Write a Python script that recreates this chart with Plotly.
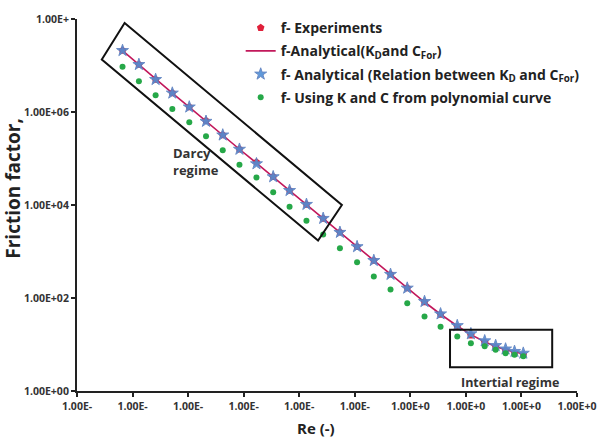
import plotly.graph_objects as go

# ---- data ----
re_vals = [6.6e-6, 1.3e-5, 2.6e-5, 5.2e-5, 1.05e-4, 2.1e-4, 4.2e-4, 8.4e-4, 1.7e-3,
           3.4e-3, 6.7e-3, 1.35e-2, 2.7e-2, 5.4e-2, 0.11, 0.22, 0.44, 0.88, 1.8,
           3.5, 7.0, 12.3, 21.8, 34.3, 51.8, 75, 108]
f_experiments = [2.1e7, 1.05e7, 5.0e6, 2.55e6, 1.28e6, 6.5e5, 3.2e5, 1.58e5, 8.3e4,
                 4.05e4, 2.05e4, 1.03e4, 5150, 2580, 1270, 640, 322, 165, 82,
                 44, 24, 15.8, 11.2, 8.9, 7.4, 6.6, 6.0]
f_analytical = [2.1e7, 1.05e7, 5.0e6, 2.55e6, 1.28e6, 6.3e5, 3.2e5, 1.58e5, 8.0e4,
                4.05e4, 2.05e4, 1.03e4, 5150, 2580, 1270, 640, 322, 163, 82,
                44.7, 25, 16.3, 11.5, 9.1, 7.7, 6.9, 6.3]
f_relation = [2.1e7, 1.05e7, 5.0e6, 2.55e6, 1.28e6, 6.3e5, 3.2e5, 1.58e5, 7.7e4,
              4.05e4, 2.05e4, 1.03e4, 5150, 2580, 1270, 640, 322, 163, 84,
              45.5, 25.5, 17.0, 12.0, 9.5, 8.0, 7.1, 6.5]
f_polynomial = [9.4e6, 4.6e6, 2.3e6, 1.16e6, 6.0e5, 3.0e5, 1.5e5, 7.3e4, 3.9e4,
                1.87e4, 9.2e3, 4.6e3, 2330, 1170, 590, 290, 153, 77, 40,
                24, 14.8, 10.7, 9.2, 7.7, 6.5, 6.0, 5.6]

x_tickvals = [1e-6, 1e-5, 1e-4, 1e-3, 1e-2, 1e-1, 1e0, 1e1, 1e2, 1e3]
x_ticktext = ["1.00E-", "1.00E-", "1.00E-", "1.00E-", "1.00E-", "1.00E-",
              "1.00E+0", "1.00E+0", "1.00E+0", "1.00E+0"]
y_tickvals = [1e0, 1e2, 1e4, 1e6, 1e8]
y_ticktext = ["1.00E+00", "1.00E+02", "1.00E+04", "1.00E+06", "1.00E+"]

FONT = "Open Sans"
fig = go.Figure()

fig.add_trace(go.Scatter(
    x=re_vals, y=f_analytical, mode="lines", name="f-Analytical(K<sub>D</sub>and C<sub>For</sub>)",
    line=dict(color="#c2185b", width=1.6), legendrank=2, legendgroup="b"))
fig.add_trace(go.Scatter(
    x=re_vals, y=f_experiments, mode="markers", name="f- Experiments",
    marker=dict(symbol="pentagon", size=8, color="#e0203a"), legendrank=1, legendgroup="a"))
fig.add_trace(go.Scatter(
    x=re_vals, y=f_relation, mode="markers", name="f- Analytical (Relation between K<sub>D</sub> and C<sub>For</sub>)",
    marker=dict(symbol="star", size=9, color="#4f8fd6", opacity=0.9,
                line=dict(color="#5b7fc0", width=1)), legendrank=3, legendgroup="c"))
fig.add_trace(go.Scatter(
    x=re_vals, y=f_polynomial, mode="markers", name="f- Using K and C from polynomial curve",
    marker=dict(symbol="circle", size=6, color="#26a848"), legendrank=4, legendgroup="d"))

axfont = dict(family=FONT, size=10.5, color="#333", weight="bold")
fig.update_xaxes(type="log", range=[-6, 3], tickvals=x_tickvals, ticktext=x_ticktext,
                 showline=True, linecolor="#222", linewidth=2, ticks="outside", ticklen=4,
                 tickcolor="#222", tickwidth=1.5, showgrid=False, zeroline=False, tickfont=axfont)
fig.update_yaxes(type="log", range=[0, 8], tickvals=y_tickvals, ticktext=y_ticktext,
                 showline=True, linecolor="#222", linewidth=2, ticks="outside", ticklen=4,
                 tickcolor="#222", tickwidth=1.5, showgrid=False, zeroline=False, tickfont=axfont)

W, H = 608, 439
L, R, T, B = 77, 27, 15, 48
pw, ph = W - L - R, H - T - B


def px(x):
    return (x - L) / pw


def py(y):
    return (H - B - y) / ph


shapes = [
    dict(type="path", xref="paper", yref="paper",
         path=f"M {px(125)} {py(19)} L {px(344)} {py(203)} L {px(320)} {py(239)} L {px(102)} {py(56)} Z",
         line=dict(color="#111", width=2)),
    dict(type="rect", xref="paper", yref="paper",
         x0=px(453), x1=px(556), y0=py(367), y1=py(329),
         line=dict(color="#111", width=2)),
]

annotations = [
    dict(text="Friction factor,", xref="paper", yref="paper", x=px(13), y=py(186),
         xanchor="center", yanchor="middle",
         textangle=-90, showarrow=False, font=dict(family=FONT, size=19, color="#222", weight="bold")),
    dict(text="Re (-)", xref="paper", yref="paper", x=px(318), y=py(428),
         xanchor="center", yanchor="middle",
         showarrow=False, font=dict(family=FONT, size=15, color="#222", weight="bold")),
    dict(text="Darcy<br>regime", xref="paper", yref="paper", x=px(172), y=py(159),
         xanchor="left", yanchor="middle", align="left", showarrow=False,
         font=dict(family=FONT, size=13, color="#333", weight="bold")),
    dict(text="Intertial regime", xref="paper", yref="paper", x=px(513), y=py(382),
         xanchor="center", yanchor="middle",
         showarrow=False, font=dict(family=FONT, size=12.5, color="#333", weight="bold")),
]

fig.update_layout(
    width=W, height=H, margin=dict(l=L, r=R, t=T, b=B),
    paper_bgcolor="white", plot_bgcolor="white",
    shapes=shapes, annotations=annotations,
    legend=dict(x=px(242), y=py(8), xanchor="left", yanchor="top",
                bgcolor="rgba(0,0,0,0)", tracegroupgap=2,
                font=dict(family=FONT, size=14, color="#222", weight="bold")),
)

fig.write_html("out.html")
